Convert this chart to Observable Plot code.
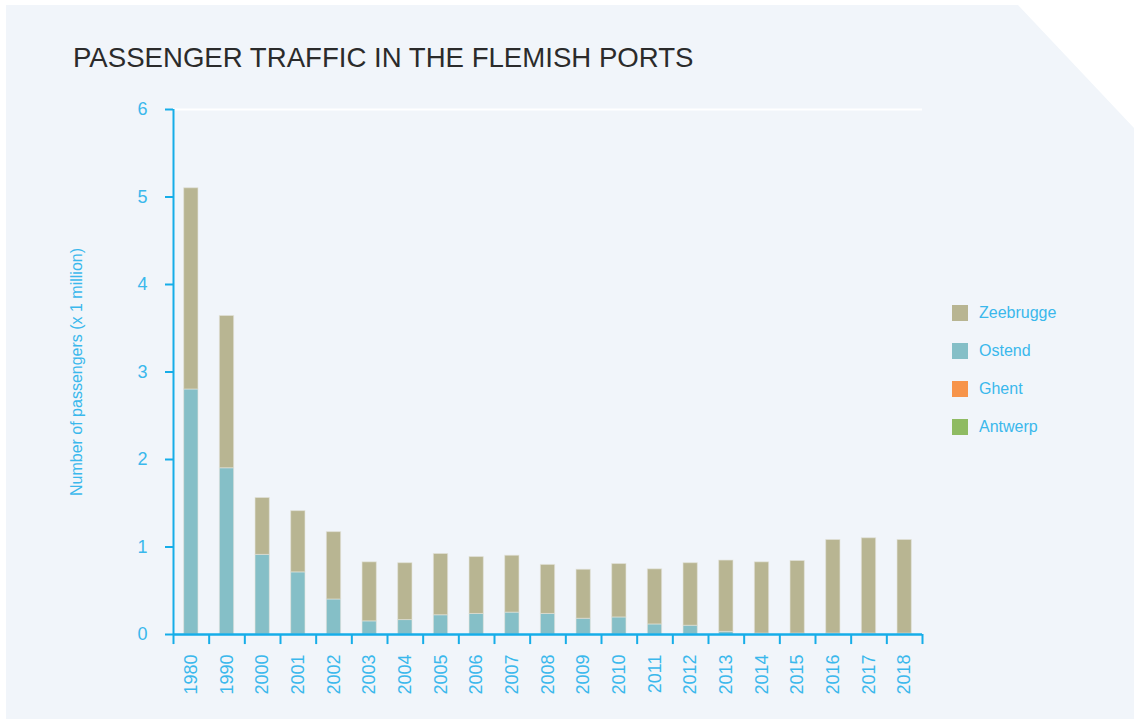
<!DOCTYPE html>
<html>
<head>
<meta charset="utf-8">
<script src="https://cdn.jsdelivr.net/npm/d3@7"></script>
<script src="https://cdn.jsdelivr.net/npm/@observablehq/plot@0.6"></script>
<style>
  html, body { margin: 0; padding: 0; background: #ffffff; }
  body { width: 1134px; height: 719px; position: relative; overflow: hidden; font-family: "Liberation Sans", Arial, sans-serif; }
  #panel { position: absolute; left: 6px; top: 5px; width: 1128px; height: 714px; background: #f1f5fa;
    clip-path: polygon(0 0, 1012px 0, 1128px 123px, 1128px 714px, 0 714px); }
  #title { position: absolute; left: 73px; top: 42px; font-size: 27.6px; color: #2b2b2b; white-space: nowrap; }
  #chart { position: absolute; left: 0; top: 0; }
  #legend { position: absolute; left: 952px; top: 305px; }
  .item { display: flex; align-items: center; height: 16px; margin-bottom: 22px; font-size: 16px; color: #3ab8ec; }
  .sw { width: 16px; height: 16px; margin-right: 11px; }
</style>
</head>
<body>
<div id="panel"></div>
<div id="title">PASSENGER TRAFFIC IN THE FLEMISH PORTS</div>
<div id="chart"></div>
<div id="legend"></div>
<script>
const years = ["1980","1990","2000","2001","2002","2003","2004","2005","2006","2007","2008","2009","2010","2011","2012","2013","2014","2015","2016","2017","2018"];
const ostend = [2.80,1.90,0.91,0.71,0.40,0.15,0.165,0.22,0.235,0.25,0.235,0.18,0.195,0.115,0.10,0.03,0.01,0.01,0.01,0.01,0.01];
const totals = [5.10,3.64,1.56,1.41,1.17,0.825,0.815,0.92,0.885,0.90,0.795,0.74,0.805,0.745,0.815,0.845,0.825,0.84,1.08,1.10,1.08];
const zeebrugge = totals.map((t, i) => +(t - ostend[i]).toFixed(3));
const ghent = years.map(() => 0);
const antwerp = years.map(() => 0);
const ports = ["Zeebrugge", "Ostend", "Ghent", "Antwerp"];
const portColors = ["#b8b592", "#85bfc7", "#f7944a", "#8fbb62"];
const yTicks = [0,1,2,3,4,5,6];
const yLabel = "Number of passengers (x 1 million)";

const rows = [];
years.forEach((y, i) => {
  rows.push({year: y, port: "Antwerp", value: antwerp[i]});
  rows.push({year: y, port: "Ghent", value: ghent[i]});
  rows.push({year: y, port: "Ostend", value: ostend[i]});
  rows.push({year: y, port: "Zeebrugge", value: zeebrugge[i]});
});

const W = 1134, H = 719;
const mL = 173, mR = 212, mT = 109, mB = 85;
const step = (W - mL - mR) / years.length;
const blue = "#16ade8";
const textBlue = "#3ab8ec";

const plot = Plot.plot({
  width: W, height: H,
  marginLeft: mL, marginRight: mR, marginTop: mT, marginBottom: mB,
  style: { background: "transparent", fontFamily: "'Liberation Sans', Arial, sans-serif", overflow: "visible" },
  x: { domain: years, paddingInner: 0.6, paddingOuter: 0.3, round: false, axis: null },
  y: { domain: [0, 6], axis: null },
  color: { domain: ports, range: portColors },
  marks: [
    Plot.ruleY([6], { stroke: "#ffffff", strokeWidth: 2 }),
    Plot.barY(rows.filter(d => d.value > 0), {
      x: "year", y: "value", fill: "port", order: ["Antwerp","Ghent","Ostend","Zeebrugge"],
      stroke: "#e2e3da", strokeWidth: 1, strokeOpacity: 0.6
    }),
    Plot.axisY({ ticks: yTicks, tickSize: 8, tickPadding: 18, fontSize: 18, color: textBlue, stroke: blue, strokeWidth: 2, label: null, tickFormat: d => String(d) }),
    Plot.axisX({ tickSize: 0, tickPadding: 20, tickRotate: -90, fontSize: 18, color: textBlue, label: null }),
    Plot.ruleX([years[0]], { y1: 0, y2: 6, dx: -step / 2, stroke: blue, strokeWidth: 2 }),
    Plot.ruleY([0], { stroke: blue, strokeWidth: 2.5 }),
    Plot.ruleX(years, { y1: 0, y2: -0.115, dx: -step / 2, stroke: blue, strokeWidth: 2 }),
    Plot.ruleX([years[years.length - 1]], { y1: 0, y2: -0.115, dx: step / 2, stroke: blue, strokeWidth: 2 }),
    Plot.text([yLabel], { frameAnchor: "left", textAnchor: "middle", rotate: -90, dx: -97, fontSize: 16, fill: textBlue })
  ]
});
document.getElementById("chart").appendChild(plot);

const legend = document.getElementById("legend");
ports.forEach((p, i) => {
  const item = document.createElement("div");
  item.className = "item";
  item.innerHTML = `<div class="sw" style="background:${portColors[i]}"></div><span>${p}</span>`;
  legend.appendChild(item);
});
</script>
</body>
</html>
